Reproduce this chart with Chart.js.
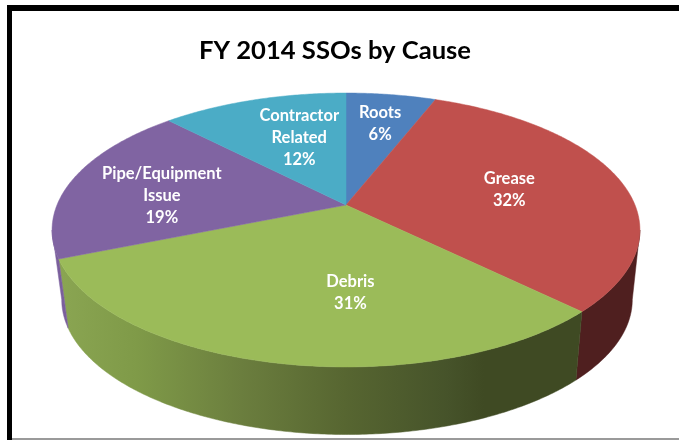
<!DOCTYPE html>
<html>
<head>
<meta charset="utf-8">
<title>FY 2014 SSOs by Cause</title>
<script src="https://cdn.jsdelivr.net/npm/chart.js@4/dist/chart.umd.js"></script>
<style>
    html, body { margin: 0; padding: 0; background: #fff; }
    canvas { display: block; }
</style>
</head>
<body>
<canvas id="pie" width="679" height="440"></canvas>
<script>
const chartTitle = 'FY 2014 SSOs by Cause';
const categories = ['Roots', 'Grease', 'Debris', 'Pipe/Equipment Issue', 'Contractor Related'];
const shares = [5.9, 31.5, 31.4, 19.0, 12.2];
const topColors = ['#4f81bd', '#c0504d', '#9bbb59', '#8064a2', '#4bacc6'];

// 透视参数: 圆盘投影到屏幕
const view = { cx: 346, cy: 205, a: 289, b: 132.4, k: 0.1825 };
const base = { cx: 347, cy: 275, a: 280.5, b: 130.4, k: 0.1825 };
// 标签位置: 半径比例和微调
const labelRadius = [0.70, 0.565, 0.60, 0.66, 0.61];
const labelNudge = [[1, 0], [7, 0], [42, 0], [-2, 8], [13, 1]];

// theta 从 12 点方向顺时针量
function project(p, theta, r) {
    const u = Math.sin(theta) * r;
    const v = -Math.cos(theta) * r;
    const d = 1 - p.k * v;
    return { x: p.cx + p.a * u / d, y: p.cy + p.b * v / d };
}

function rimPath(ctx, p, from, to) {
    const steps = Math.max(2, Math.ceil(Math.abs(to - from) / 0.01));
    for (let i = 0; i <= steps; i++) {
        const pt = project(p, from + (to - from) * i / steps, 1);
        ctx.lineTo(pt.x, pt.y);
    }
}

function wallFill(ctx, index) {
    if (index === 1) return '#4f1f1f';
    if (index === 3) return '#7a5f9c';
    const g = ctx.createLinearGradient(60, 0, 577, 0);
    g.addColorStop(0, '#8aa552');
    g.addColorStop(0.15, '#7f9a48');
    g.addColorStop(0.35, '#6b7e3e');
    g.addColorStop(0.55, '#576631');
    g.addColorStop(0.75, '#46532a');
    g.addColorStop(0.82, '#3f4a23');
    g.addColorStop(1, '#3f4a23');
    return g;
}

const disc3d = {
    id: 'disc3d',
    beforeDraw(chart) {
        const ctx = chart.ctx;
        ctx.save();
        ctx.fillStyle = '#ffffff';
        ctx.fillRect(0, 0, chart.width, chart.height);
        ctx.fillStyle = '#000000';
        ctx.fillRect(7, 5, chart.width - 7, 6);
        ctx.fillRect(7, 5, 5, chart.height - 5);
        ctx.fillStyle = '#9a9a9a';
        ctx.fillRect(12, 438, chart.width - 12, 2);
        ctx.restore();
    },
    beforeDatasetsDraw(chart) {
        const ctx = chart.ctx;
        const arcs = chart.getDatasetMeta(0).data;
        const frontStart = Math.acos(-view.k);
        const frontEnd = 2 * Math.PI - frontStart;

        ctx.save();
        // 侧面
        arcs.forEach((arc, i) => {
            const from = Math.max(arc.startAngle + Math.PI / 2, frontStart);
            const to = Math.min(arc.endAngle + Math.PI / 2, frontEnd);
            if (to <= from) return;
            const fill = wallFill(ctx, i);
            ctx.beginPath();
            rimPath(ctx, view, from, to);
            rimPath(ctx, base, to, from);
            ctx.closePath();
            ctx.fillStyle = fill;
            ctx.strokeStyle = fill;
            ctx.lineWidth = 0.5;
            ctx.fill();
            ctx.stroke();
        });

        // 顶面
        arcs.forEach((arc, i) => {
            ctx.beginPath();
            ctx.moveTo(view.cx, view.cy);
            rimPath(ctx, view, arc.startAngle + Math.PI / 2, arc.endAngle + Math.PI / 2);
            ctx.closePath();
            ctx.fillStyle = topColors[i];
            ctx.strokeStyle = topColors[i];
            ctx.lineWidth = 0.5;
            ctx.fill();
            ctx.stroke();
        });

        // 标签
        ctx.font = 'bold 16.5px Lato';
        ctx.textAlign = 'center';
        ctx.textBaseline = 'middle';
        ctx.fillStyle = '#ffffff';
        arcs.forEach((arc, i) => {
            const mid = (arc.startAngle + arc.endAngle) / 2 + Math.PI / 2;
            const pos = project(view, mid, labelRadius[i]);
            const lines = categories[i].split(' ').concat(Math.round(shares[i]) + '%');
            const top = pos.y + labelNudge[i][1] - (lines.length - 1) * 11;
            lines.forEach((line, n) => {
                ctx.fillText(line, pos.x + labelNudge[i][0], top + n * 22);
            });
        });
        ctx.restore();
        return false;
    }
};

new Chart(document.getElementById('pie'), {
    type: 'pie',
    data: {
        labels: categories,
        datasets: [{
            data: shares,
            backgroundColor: topColors,
            borderWidth: 0
        }]
    },
    options: {
        responsive: false,
        animation: false,
        layout: { padding: { right: 9 } },
        plugins: {
            legend: { display: false },
            tooltip: { enabled: false },
            title: {
                display: true,
                text: chartTitle,
                color: '#000000',
                font: { family: 'Lato', size: 25.6, weight: 'bold' },
                padding: { top: 35, bottom: 10 }
            }
        }
    },
    plugins: [disc3d]
});
</script>
</body>
</html>
